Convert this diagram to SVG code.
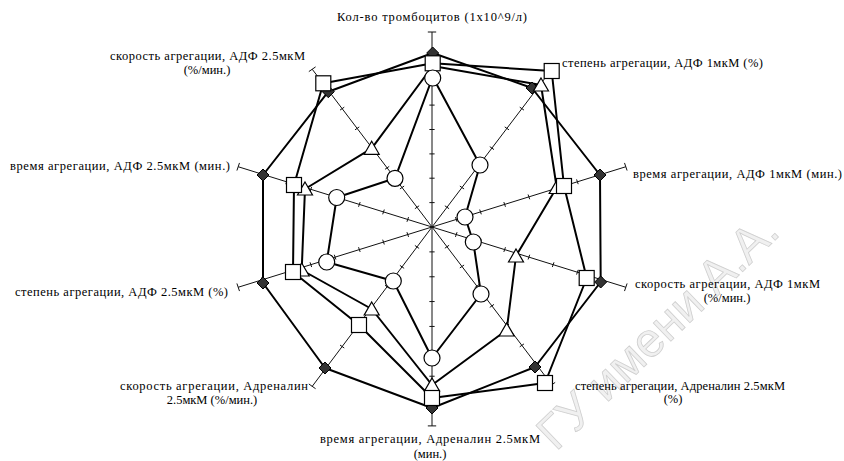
<svg xmlns="http://www.w3.org/2000/svg" xmlns:xlink="http://www.w3.org/1999/xlink" width="844" height="461" viewBox="0 0 844 461">
<style>
.ax{stroke:#111;stroke-width:1;fill:none}
.tk{stroke:#111;stroke-width:1}
.ser{fill:none;stroke:#000;stroke-width:2;stroke-linejoin:round}
.mk{fill:#fff;stroke:#000;stroke-width:1.2}
.dm{fill:#333;stroke:#000;stroke-width:1}
.lb{font-family:"Liberation Serif","Times New Roman",serif;font-size:12.5px;fill:#000}
.wm{font-family:"Liberation Sans",Arial,sans-serif;font-size:48px;fill:#f0f0f0;stroke:#cfcfcf;stroke-width:0.8}
</style>
<defs>
<g id="axis">
<line x1="0" y1="0" x2="0" y2="-195" class="ax" vector-effect="non-scaling-stroke"/>
<path class="tk" vector-effect="non-scaling-stroke" d="M-2.5,-24.4H2.5M-2.5,-48.8H2.5M-2.5,-73.1H2.5M-2.5,-97.5H2.5M-2.5,-121.9H2.5M-2.5,-146.3H2.5M-2.5,-170.6H2.5M-4,-195H4"/>
</g>
<rect id="sq" x="-7.5" y="-7.5" width="15" height="15" class="mk"/>
<circle id="ci" r="8" class="mk"/>
<polygon id="tr" points="0,-7 7.5,6 -7.5,6" class="mk"/>
<polygon id="di" points="0,-6 6,0 0,6 -6,0" class="dm"/>
</defs>
<rect width="844" height="461" fill="#fff"/>
<text class="wm" transform="translate(556,452) rotate(-44)">ГУ имени А.А.</text>
<g id="axes">
<use xlink:href="#axis" transform="translate(432,227) scale(1.045,1) rotate(0)"/>
<use xlink:href="#axis" transform="translate(432,227) scale(1.045,1) rotate(36)"/>
<use xlink:href="#axis" transform="translate(432,227) scale(1.045,1) rotate(72)"/>
<use xlink:href="#axis" transform="translate(432,227) scale(1.045,1) rotate(108)"/>
<use xlink:href="#axis" transform="translate(432,227) scale(1.045,1) rotate(144)"/>
<use xlink:href="#axis" transform="translate(432,227) scale(1.045,1.02) rotate(180)"/>
<use xlink:href="#axis" transform="translate(432,227) scale(1.045,1.01) rotate(216)"/>
<use xlink:href="#axis" transform="translate(432,227) scale(1.045,1) rotate(252)"/>
<use xlink:href="#axis" transform="translate(432,227) scale(1.045,1) rotate(288)"/>
<use xlink:href="#axis" transform="translate(432,227) scale(1.045,1) rotate(324)"/>
</g>
<g id="connectors">
<polygon id="line-diamond" class="ser" points="432.7,53 532,88 600,175 600.7,282 535,367 432,408 325,368 263,283 263,175 328.3,91.7"/>
<polygon id="line-square" class="ser" points="432.7,63.3 551.7,71 564,186 586.7,278 545,383 432,398 359,325 293,272 294,185 323.3,83.3"/>
<polygon id="line-triangle" class="ser" points="432.7,66 541,85 556.7,187.5 516,256 506.7,330 432,385 371.7,309 301.7,270 305,189 371.7,148.3"/>
<polygon id="line-circle" class="ser" points="432.7,77 480,165 465,217 473.3,242 481,294 432,358 393.3,281 326.7,262 336.7,197.5 395,178.3"/>
</g>
<g id="markers-diamond">
<use xlink:href="#di" x="432.7" y="53"/><use xlink:href="#di" x="532" y="88"/><use xlink:href="#di" x="600" y="175"/><use xlink:href="#di" x="600.7" y="282"/><use xlink:href="#di" x="535" y="367"/><use xlink:href="#di" x="432" y="408"/><use xlink:href="#di" x="325" y="368"/><use xlink:href="#di" x="263" y="283"/><use xlink:href="#di" x="263" y="175"/><use xlink:href="#di" x="328.3" y="91.7"/>
</g>
<g id="markers-triangle">
<use xlink:href="#tr" x="541" y="85"/><use xlink:href="#tr" x="556.7" y="187.5"/><use xlink:href="#tr" x="516" y="256"/><use xlink:href="#tr" x="506.7" y="330"/><use xlink:href="#tr" x="432" y="385"/><use xlink:href="#tr" x="371.7" y="309"/><use xlink:href="#tr" x="301.7" y="270"/><use xlink:href="#tr" x="305" y="189"/><use xlink:href="#tr" x="371.7" y="148.3"/>
</g>
<g id="markers-square">
<use xlink:href="#sq" x="432.7" y="63.3"/><use xlink:href="#sq" x="551.7" y="71"/><use xlink:href="#sq" x="564" y="186"/><use xlink:href="#sq" x="586.7" y="278"/><use xlink:href="#sq" x="545" y="383"/><use xlink:href="#sq" x="432" y="398"/><use xlink:href="#sq" x="359" y="325"/><use xlink:href="#sq" x="293" y="272"/><use xlink:href="#sq" x="294" y="185"/><use xlink:href="#sq" x="323.3" y="83.3"/>
</g>
<g id="markers-circle">
<use xlink:href="#ci" x="432.7" y="78"/><use xlink:href="#ci" x="480" y="165"/><use xlink:href="#ci" x="465" y="217"/><use xlink:href="#ci" x="473.3" y="242"/><use xlink:href="#ci" x="481" y="294"/><use xlink:href="#ci" x="432" y="358"/><use xlink:href="#ci" x="393.3" y="281"/><use xlink:href="#ci" x="326.7" y="262"/><use xlink:href="#ci" x="336.7" y="197.5"/><use xlink:href="#ci" x="395" y="178.3"/>
</g>
<g id="labels">
<text class="lb" x="337" y="21" textLength="190">Кол-во тромбоцитов (1x10^9/л)</text>
<text class="lb" x="562" y="67" textLength="201">степень агрегации, АДФ 1мкМ (%)</text>
<text class="lb" x="633" y="178" textLength="209">время агрегации, АДФ 1мкМ (мин.)</text>
<text class="lb" x="635" y="288" textLength="185">скорость агрегации, АДФ 1мкМ</text>
<text class="lb" x="727" y="302" text-anchor="middle">(%/мин.)</text>
<text class="lb" x="575" y="390" textLength="210">степень агрегации, Адреналин 2.5мкМ</text>
<text class="lb" x="673" y="403" text-anchor="middle">(%)</text>
<text class="lb" x="320" y="443" textLength="220">время агрегации, Адреналин 2.5мкМ</text>
<text class="lb" x="430" y="458" text-anchor="middle">(мин.)</text>
<text class="lb" x="120" y="390" textLength="188">скорость агрегации, Адреналин</text>
<text class="lb" x="212" y="404" text-anchor="middle">2.5мкМ (%/мин.)</text>
<text class="lb" x="15" y="296" textLength="213">степень агрегации, АДФ 2.5мкМ (%)</text>
<text class="lb" x="10" y="170" textLength="220">время агрегации, АДФ 2.5мкМ (мин.)</text>
<text class="lb" x="110" y="60" textLength="195">скорость агрегации, АДФ 2.5мкМ</text>
<text class="lb" x="207" y="74" text-anchor="middle">(%/мин.)</text>
</g>
</svg>
